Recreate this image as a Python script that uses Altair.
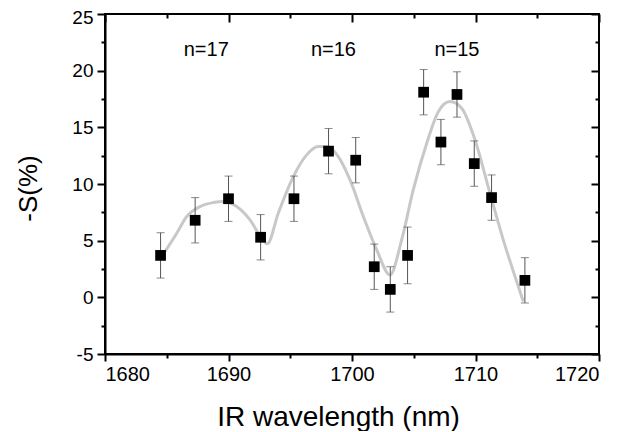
import altair as alt
import pandas as pd

# measured points
wavelength = [1684.5, 1687.3, 1690.0, 1692.6, 1695.3, 1698.1, 1700.3, 1701.8,
              1703.1, 1704.5, 1705.8, 1707.2, 1708.5, 1709.9, 1711.3, 1714.0]
signal = [3.7, 6.8, 8.7, 5.3, 8.7, 12.9, 12.1, 2.7,
          0.7, 3.7, 18.1, 13.7, 17.9, 11.8, 8.8, 1.5]
error = [2.0, 2.0, 2.0, 2.0, 2.0, 2.0, 2.0, 2.0,
         2.0, 2.5, 2.0, 2.0, 2.0, 2.0, 2.0, 2.0]

# fitted curve
fit_x = [1684.86, 1685.81, 1686.62, 1687.69, 1688.77, 1689.58, 1690.66, 1691.74,
         1692.69, 1693.14, 1694.03, 1695.25, 1696.33, 1697.27, 1697.95, 1698.89,
         1699.84, 1700.92, 1702.0, 1703.08, 1704.02, 1704.96, 1706.05, 1706.99,
         1707.94, 1708.88, 1709.96, 1711.17, 1712.25, 1713.2, 1713.87]
fit_y = [4.04, 5.66, 7.13, 8.01, 8.36, 8.45, 8.01, 6.83,
         5.22, 4.72, 7.42, 10.65, 12.57, 13.30, 13.30, 12.42,
         10.36, 7.13, 4.19, 1.98, 5.07, 9.48, 13.6, 16.38,
         17.27, 16.68, 13.89, 9.19, 5.07, 1.83, -0.37]

# annotations
label_x = [1688.2, 1698.5, 1708.5]
label_y = [21.8, 21.8, 21.8]
label_text = ["n=17", "n=16", "n=15"]

x_ticks = [1680, 1685, 1690, 1695, 1700, 1705, 1710, 1715, 1720]
y_ticks = [-5, -2.5, 0, 2.5, 5, 7.5, 10, 12.5, 15, 17.5, 20, 22.5, 25]

pts = pd.DataFrame({"wl": wavelength, "s": signal, "err": error})
pts["lo"] = pts["s"] - pts["err"]
pts["hi"] = pts["s"] + pts["err"]
fit = pd.DataFrame({"wl": fit_x, "s": fit_y})
lab = pd.DataFrame({"wl": label_x, "s": label_y, "t": label_text})

FONT = "Liberation Sans"
xs = alt.Scale(domain=[1680, 1720], nice=False, zero=False)
ys = alt.Scale(domain=[-5, 25], nice=False, zero=False)

x_bottom = alt.Axis(
    orient="bottom", values=x_ticks, grid=False,
    labelExpr="datum.value % 10 === 0 ? '' + datum.value : ''",
    tickSize={"expr": "datum.value % 10 === 0 ? 7 : 4"},
    tickWidth=2, tickColor="black", domainColor="black", domainWidth=2,
    labelFont=FONT, labelFontSize=20, labelColor="black", labelPadding=3,
    title="IR wavelength (nm)", titleFont=FONT, titleFontSize=28,
    titleFontWeight="normal", titleColor="black",
    titleX=233, titleY=71, titleAlign="center", titleBaseline="alphabetic",
)
y_left = alt.Axis(
    orient="left", values=y_ticks, grid=False,
    labelExpr="datum.value % 5 === 0 ? '' + datum.value : ''",
    labelOffset={"expr": "datum.value === 25 ? 3 : 0"},
    tickSize={"expr": "datum.value % 5 === 0 ? 8 : 4"},
    tickWidth=2, tickColor="black", domainColor="black", domainWidth=2,
    labelFont=FONT, labelFontSize=19, labelColor="black", labelPadding=4,
    title="-S(%)", titleFont=FONT, titleFontSize=26,
    titleFontWeight="normal", titleColor="black",
    titleX=-77, titleY=174, titleAngle=270, titleAlign="center", titleBaseline="middle",
)
x_top = alt.Axis(
    orient="top", values=x_ticks, grid=False, labels=False, domain=False, title=None,
    tickSize={"expr": "datum.value % 10 === 0 ? -8 : -4"},
    tickWidth=2, tickColor="black",
)
y_right = alt.Axis(
    orient="right", values=y_ticks, grid=False, labels=False, domain=False, title=None,
    tickSize={"expr": "datum.value % 5 === 0 ? -8 : -4"},
    tickWidth=2, tickColor="black",
)

curve = alt.Chart(fit).mark_line(color="#c8c8c8", strokeWidth=3, interpolate="monotone").encode(
    x=alt.X("wl:Q", scale=xs, axis=x_top),
    y=alt.Y("s:Q", scale=ys, axis=y_right),
)
bars = alt.Chart(pts).mark_rule(color="#555555", strokeWidth=1).encode(
    x=alt.X("wl:Q", scale=xs, axis=None),
    y=alt.Y("lo:Q", scale=ys, axis=None),
    y2="hi:Q",
)
cap_lo = alt.Chart(pts).mark_tick(color="#555555", orient="horizontal", size=8, thickness=1).encode(
    x=alt.X("wl:Q", scale=xs, axis=None),
    y=alt.Y("lo:Q", scale=ys, axis=None),
)
cap_hi = alt.Chart(pts).mark_tick(color="#555555", orient="horizontal", size=8, thickness=1).encode(
    x=alt.X("wl:Q", scale=xs, axis=None),
    y=alt.Y("hi:Q", scale=ys, axis=None),
)
points = alt.Chart(pts).mark_square(color="black", size=115, opacity=1).encode(
    x=alt.X("wl:Q", scale=xs, axis=x_bottom),
    y=alt.Y("s:Q", scale=ys, axis=y_left),
)
labels = alt.Chart(lab).mark_text(font=FONT, fontSize=20, color="black", baseline="middle", align="center").encode(
    x=alt.X("wl:Q", scale=xs, axis=None),
    y=alt.Y("s:Q", scale=ys, axis=None),
    text="t:N",
)

chart = alt.layer(curve, bars, cap_lo, cap_hi, points, labels).resolve_axis(
    x="independent", y="independent"
).properties(
    width=494, height=340,
    padding={"left": 97, "top": 6, "right": 30, "bottom": 77},
    autosize=alt.AutoSizeParams(type="none"),
    background="white",
).configure_view(stroke="black", strokeWidth=2)

chart.save("out.html", embed_options={"renderer": "svg", "actions": False})
